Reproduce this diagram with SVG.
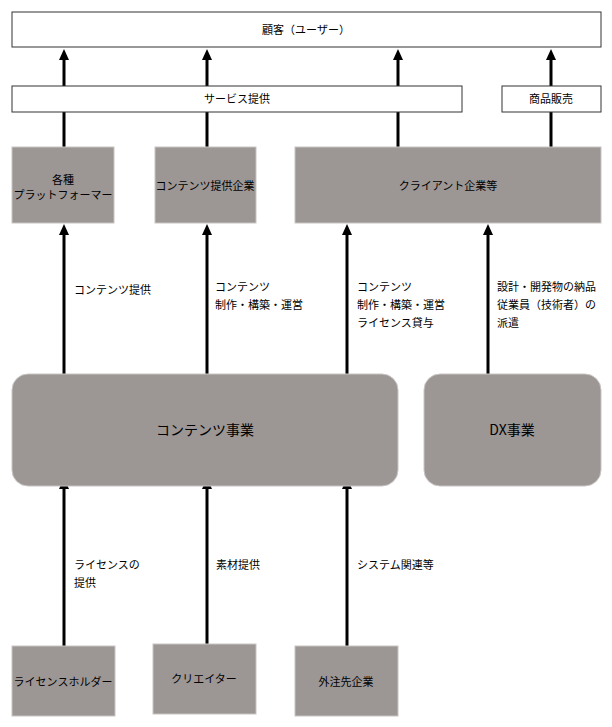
<svg xmlns="http://www.w3.org/2000/svg" width="612" height="727" viewBox="0 0 612 727">
<style>
text{font-family:"Noto Sans CJK JP","Noto Sans",sans-serif;font-size:11px;fill:#000}
.c{text-anchor:middle}
.w{fill:#fff;stroke:#333;stroke-width:1}
.g{fill:#9c9695;stroke:#c9c5c4;stroke-width:1}
.big{font-size:14px}
.ln{stroke:#000;stroke-width:3;fill:none}
</style>
<defs>
<marker id="ah" markerUnits="userSpaceOnUse" markerWidth="12" markerHeight="12" refX="0" refY="5" orient="auto">
<path d="M0,0 L11,5 L0,10 z" fill="#000"/>
</marker>
</defs>
<rect width="612" height="727" fill="#fff"/>
<g id="connectors">
<line class="ln" x1="64" y1="86" x2="64" y2="60" marker-end="url(#ah)"/>
<line class="ln" x1="207" y1="86" x2="207" y2="60" marker-end="url(#ah)"/>
<line class="ln" x1="398" y1="86" x2="398" y2="60" marker-end="url(#ah)"/>
<line class="ln" x1="551" y1="86" x2="551" y2="60" marker-end="url(#ah)"/>
<line class="ln" x1="64" y1="147" x2="64" y2="112"/>
<line class="ln" x1="207" y1="147" x2="207" y2="112"/>
<line class="ln" x1="398" y1="147" x2="398" y2="112"/>
<line class="ln" x1="551" y1="147" x2="551" y2="112"/>
<line class="ln" x1="64" y1="375" x2="64" y2="235" marker-end="url(#ah)"/>
<line class="ln" x1="207" y1="375" x2="207" y2="235" marker-end="url(#ah)"/>
<line class="ln" x1="347" y1="375" x2="347" y2="235" marker-end="url(#ah)"/>
<line class="ln" x1="488" y1="375" x2="488" y2="235" marker-end="url(#ah)"/>
<line class="ln" x1="64" y1="646" x2="64" y2="489" marker-end="url(#ah)"/>
<line class="ln" x1="207" y1="644" x2="207" y2="489" marker-end="url(#ah)"/>
<line class="ln" x1="347" y1="646" x2="347" y2="489" marker-end="url(#ah)"/>
<text x="74" y="294">コンテンツ提供</text>
<text x="215" y="291">コンテンツ</text>
<text x="215" y="309">制作・構築・運営</text>
<text x="357" y="291">コンテンツ</text>
<text x="357" y="309">制作・構築・運営</text>
<text x="357" y="327">ライセンス貸与</text>
<text x="497" y="291">設計・開発物の納品</text>
<text x="497" y="309">従業員（技術者）の</text>
<text x="497" y="327">派遣</text>
<text x="74" y="569">ライセンスの</text>
<text x="74" y="587">提供</text>
<text x="216" y="569">素材提供</text>
<text x="357" y="569">システム関連等</text>
</g>
<g id="customer"><rect class="w" x="12" y="12" width="589" height="35"/><text class="c" x="306" y="34">顧客（ユーザー）</text></g>
<g id="service"><rect class="w" x="12" y="86" width="450" height="26"/><text class="c" x="237" y="103">サービス提供</text></g>
<g id="sales"><rect class="w" x="502" y="86" width="99" height="26"/><text class="c" x="551" y="103">商品販売</text></g>
<g id="platform"><rect class="g" x="12" y="147" width="102" height="76"/><text class="c" x="63" y="184">各種</text><text class="c" x="63" y="199">プラットフォーマー</text></g>
<g id="provider"><rect class="g" x="155" y="147" width="101" height="76"/><text class="c" x="205" y="190">コンテンツ提供企業</text></g>
<g id="client"><rect class="g" x="295" y="147" width="306" height="76"/><text class="c" x="448" y="190">クライアント企業等</text></g>
<g id="content"><rect class="g" x="12" y="374" width="386" height="112" rx="16"/><text class="c big" x="205" y="435">コンテンツ事業</text></g>
<g id="dx"><rect class="g" x="424" y="374" width="177" height="112" rx="16"/><text class="c big" x="512" y="435">DX事業</text></g>
<g id="holder"><rect class="g" x="12" y="646" width="103" height="70"/><text class="c" x="63" y="686">ライセンスホルダー</text></g>
<g id="creator"><rect class="g" x="153" y="644" width="103" height="70"/><text class="c" x="204" y="683">クリエイター</text></g>
<g id="outsource"><rect class="g" x="295" y="646" width="103" height="70"/><text class="c" x="346" y="686">外注先企業</text></g>
</svg>
